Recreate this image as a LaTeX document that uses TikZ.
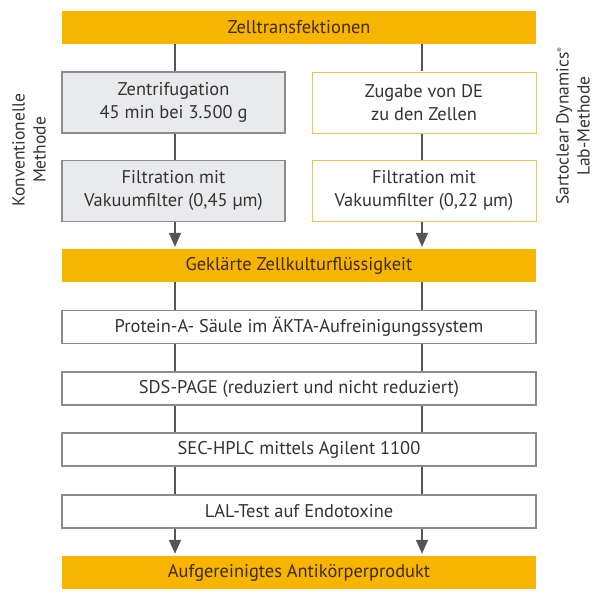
\documentclass[tikz,border=0pt]{standalone}
\usepackage{fontspec}
\setmainfont{PT Sans}
\usetikzlibrary{arrows.meta}
\definecolor{sarto}{HTML}{F8B500}
\definecolor{txt}{HTML}{333333}
\definecolor{bartxt}{HTML}{3D2A05}
\definecolor{grayfill}{HTML}{E9EAEC}
\definecolor{grayline}{HTML}{8C8C8C}
\definecolor{conn}{HTML}{555555}
\definecolor{orline}{HTML}{F2C24A}
\begin{document}
\begin{tikzpicture}[x=1pt,y=-1pt,
  base/.style={inner sep=0pt, align=center, font=\fontsize{18.4}{23}\selectfont, text=txt},
  bar/.style={base, fill=sarto, minimum width=474pt, minimum height=33pt, text=bartxt},
  graybox/.style={base, fill=grayfill, draw=grayline, line width=1.1pt, minimum width=223pt, minimum height=61pt},
  orbox/.style={base, fill=white, draw=orline, line width=1pt, minimum width=224pt, minimum height=61pt},
  wide/.style={base, fill=white, draw=grayline, line width=1.1pt, minimum width=474pt, minimum height=33pt},
  link/.style={draw=conn, line width=1.8pt},
  arr/.style={link, -{Triangle[length=14pt,width=12pt]}, shorten >=2pt},
  side/.style={base, rotate=90, font=\fontsize{17.5}{21}\selectfont}
]
\useasboundingbox (0,0) rectangle (599,600);
\coordinate (cl) at (175,0);
\coordinate (cr) at (422,0);

\node[bar] (bar1) at (299,27.5) {Zelltransfektionen};
\node[graybox] (l1) at (173.5,102.5) {Zentrifugation\\45 min bei 3.500 g};
\node[graybox] (l2) at (173.5,191) {Filtration mit\\Vakuumfilter (0,45 µm)};
\node[orbox] (r1) at (424,102.5) {Zugabe von DE\\zu den Zellen};
\node[orbox] (r2) at (424,191) {Filtration mit\\Vakuumfilter (0,22 µm)};
\node[bar] (bar2) at (299,265.5) {Geklärte Zellkulturflüssigkeit};
\node[wide] (prot) at (299,327) {Protein-A- Säule im ÄKTA-Aufreinigungssystem};
\node[wide] (sds) at (299,388.5) {SDS-PAGE (reduziert und nicht reduziert)};
\node[wide] (sec) at (299,449.5) {SEC-HPLC mittels Agilent 1100};
\node[wide] (lal) at (299,511.5) {LAL-Test auf Endotoxine};
\node[bar] (bar3) at (299,572.5) {Aufgereinigtes Antikörperprodukt};

\node[side] (konv) at (29,150) {Konventionelle\\Methode};
\node[side] (sarto) at (573,126) {Sartoclear Dynamics\textsuperscript{\fontsize{7}{7}\selectfont®}\\Lab-Methode};

\foreach \c in {cl,cr}{
  \draw[link] (bar1.south -| \c) -- (l1.north -| \c);
  \draw[link] (l1.south -| \c) -- (l2.north -| \c);
  \draw[arr] (l2.south -| \c) -- (bar2.north -| \c);
  \draw[link] (bar2.south -| \c) -- (prot.north -| \c);
  \draw[link] (prot.south -| \c) -- (sds.north -| \c);
  \draw[link] (sds.south -| \c) -- (sec.north -| \c);
  \draw[link] (sec.south -| \c) -- (lal.north -| \c);
  \draw[arr] (lal.south -| \c) -- (bar3.north -| \c);
}
\end{tikzpicture}
\end{document}
